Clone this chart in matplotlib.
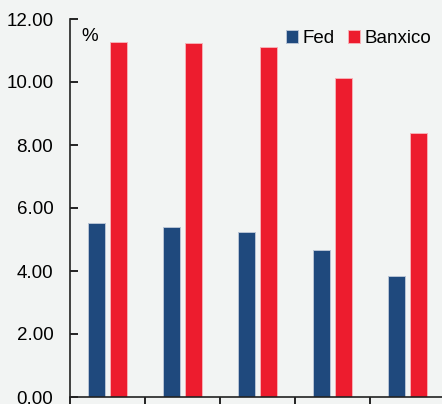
import numpy as np
import matplotlib
matplotlib.use("Agg")
import matplotlib.pyplot as plt

plt.rcParams['font.family'] = ['Liberation Sans', 'DejaVu Sans']

categories = ['1', '2', '3', '4', '5']
fed = [5.51, 5.41, 5.24, 4.67, 3.84]
banxico = [11.26, 11.24, 11.12, 10.14, 8.39]

bg = '#f2f4f3'
fig = plt.figure(figsize=(4.42, 4.04), dpi=100, facecolor=bg)
ax = fig.add_axes([70 / 442, 7 / 404, 375 / 442, 378 / 404], facecolor=bg)

x = np.arange(len(categories))
w = 0.22
ax.bar(x - 0.145, fed, w, color='#1f497d', edgecolor='#b8c4d4', linewidth=0.7, label='Fed')
ax.bar(x + 0.145, banxico, w, color='#ed1c2e', edgecolor='#f7b0b6', linewidth=0.7, label='Banxico')

ax.set_ylim(0, 12)
ax.set_xlim(-0.5, len(categories) - 0.5)
ax.set_yticks(np.arange(0, 12.01, 2))
ax.set_yticklabels([f'{v:.2f}' for v in np.arange(0, 12.01, 2)])
ax.set_xticks(np.arange(-0.5, len(categories), 1.0))
ax.set_xticklabels([])

for s in ['top', 'right']:
    ax.spines[s].set_visible(False)
for s in ['left', 'bottom']:
    ax.spines[s].set_linewidth(1.2)
    ax.spines[s].set_color('#222222')

ax.tick_params(axis='y', direction='in', length=6, width=1.2, pad=12, labelsize=13.5)
ax.tick_params(axis='x', direction='out', length=7, width=1.2)

ax.text(0.03, 0.975, '%', transform=ax.transAxes, fontsize=13.5, va='top', ha='left')

ax.legend(loc='upper left', bbox_to_anchor=(0.555, 0.99), ncol=2, frameon=False,
          fontsize=13.5, handlelength=0.65, handleheight=0.65, handletextpad=0.25,
          columnspacing=0.7, borderaxespad=0)

fig.savefig('out.png', dpi=100, facecolor=bg)
